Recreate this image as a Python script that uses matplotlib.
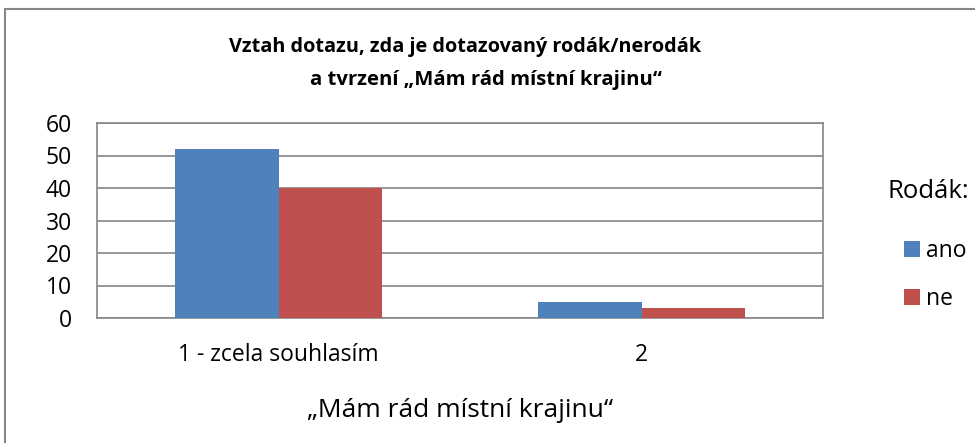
import numpy as np
import matplotlib.pyplot as plt
from matplotlib.patches import Rectangle

plt.rcParams['font.family'] = ['Open Sans', 'DejaVu Sans']

categories = ["1 - zcela souhlasím", "2"]
ano = [52, 5]
ne = [40, 3]
series_names = ["ano", "ne"]
yticks = [0, 10, 20, 30, 40, 50, 60]

blue = "#4f81bd"
red = "#c0504d"
grid = "#868686"

fig = plt.figure(figsize=(9.75, 4.43), dpi=100)
ax = fig.add_axes([97/975, 125/443, 726/975, 195/443])

x = np.arange(len(categories))
w = 0.2865
ax.bar(x - w/2, ano, w, color=blue, label=series_names[0], zorder=3)
ax.bar(x + w/2, ne, w, color=red, label=series_names[1], zorder=3)

ax.set_xlim(-0.5, 1.5)
ax.set_ylim(0, 60)
ax.set_yticks(yticks)
ax.set_xticks(x)
ax.set_xticklabels(categories)
ax.tick_params(axis='both', length=0, labelsize=16.5, colors='black')
ax.tick_params(axis='x', pad=18, labelsize=16.5)
ax.tick_params(axis='y', pad=18)
ax.yaxis.grid(True, color=grid, linewidth=1.2, zorder=0)
for s in ax.spines.values():
    s.set_color(grid)
    s.set_linewidth(1.2)

ax.set_xlabel("„Mám rád místní krajinu“", fontsize=19, labelpad=22)

fig.text(0.4774, 1 - 47/443, "Vztah dotazu, zda je dotazovaný rodák/nerodák", ha='center',
         va='center', fontsize=14.3, fontweight='bold')
fig.text(0.4985, 1 - 80/443, "a tvrzení „Mám rád místní krajinu“", ha='center',
         va='center', fontsize=14.6, fontweight='bold')

fig.text(887/975, 1 - 191/443, "Rodák:", ha='left', va='center', fontsize=18.5)
leg = fig.legend(loc='center left', bbox_to_anchor=(904/975, 1 - 275/443), frameon=False,
                 fontsize=16.5, borderpad=0, borderaxespad=0,
                 handlelength=0.7, handleheight=0.7, handletextpad=0.25,
                 labelspacing=1.05)

fig.patches.append(Rectangle((5/975, -0.1), 1.1, 1.1 - 9/443, transform=fig.transFigure,
                             fill=False, edgecolor=grid, linewidth=1.5))

fig.savefig("out.png", dpi=100)
